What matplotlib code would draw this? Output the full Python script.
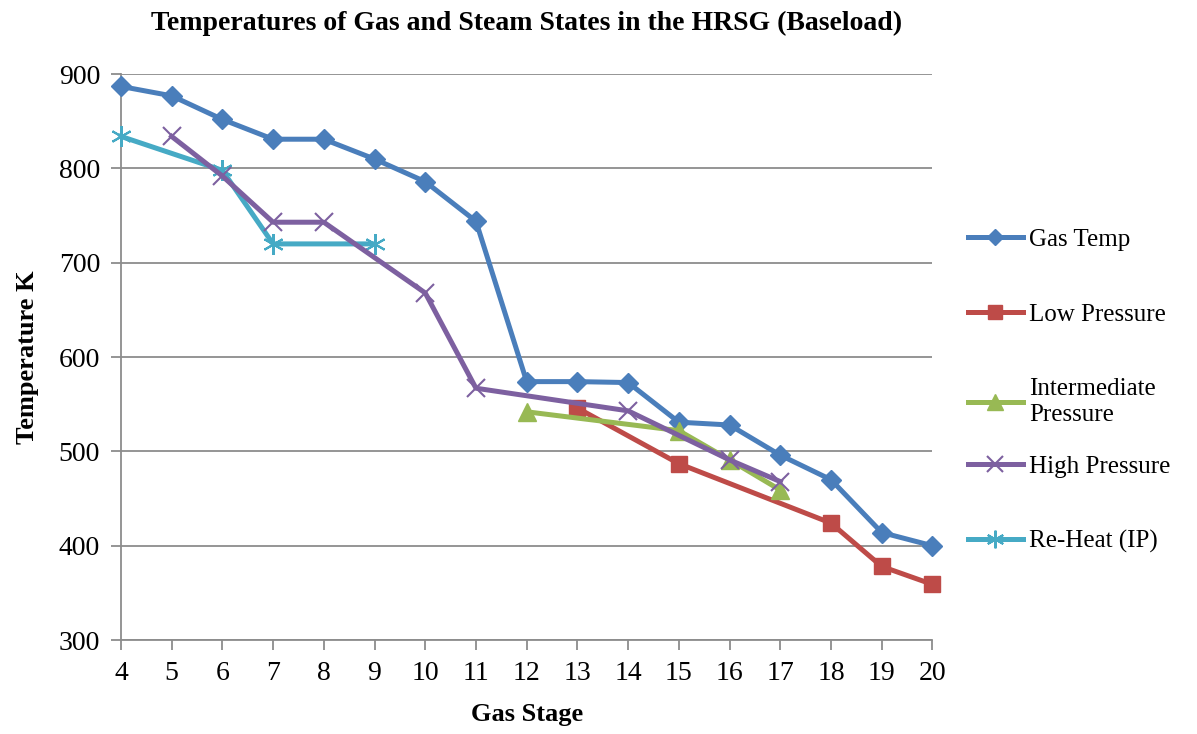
import matplotlib
matplotlib.use("Agg")
import matplotlib.pyplot as plt

# %% data
gas_stage = [4, 5, 6, 7, 8, 9, 10, 11, 12, 13, 14, 15, 16, 17, 18, 19, 20]
gas_temp = [887, 877, 852, 831, 831, 810, 786, 744, 574, 574, 573, 531, 528, 496, 470, 414, 400]

lp_stage = [13, 15, 18, 19, 20]
lp_temp = [546, 487, 424, 378, 359]

ip_stage = [12, 15, 16, 17]
ip_temp = [542, 522, 491, 459]

hp_stage = [5, 6, 7, 8, 10, 11, 14, 16, 17]
hp_temp = [834, 792, 743, 743, 668, 567, 543, 491, 468]

rh_stage = [4, 6, 7, 9]
rh_temp = [834, 798, 720, 720]

x_ticks = list(range(4, 21))
y_ticks = [300, 400, 500, 600, 700, 800, 900]

# %% style
plt.rcParams["font.family"] = ["Liberation Serif", "DejaVu Serif"]
GRID = "#8c8c8c"

fig = plt.figure(figsize=(11.97, 7.34), dpi=100)
ax = fig.add_axes([0.101, 0.128, 0.678, 0.771])

lw = 3.6
h_gas, = ax.plot(gas_stage, gas_temp, color="#4A7EBB", lw=lw, marker="D", ms=10,
                 label="Gas Temp", zorder=3, clip_on=False)
h_lp, = ax.plot(lp_stage, lp_temp, color="#BE4B48", lw=lw, marker="s", ms=12,
                label="Low Pressure", zorder=3, clip_on=False)
h_ip, = ax.plot(ip_stage, ip_temp, color="#98B954", lw=lw, marker="^", ms=13,
                label="Intermediate\nPressure", zorder=3, clip_on=False)
h_hp, = ax.plot(hp_stage, hp_temp, color="#7D60A0", lw=lw, marker="x", ms=13, mew=1.5,
                label="High Pressure", zorder=4, clip_on=False)
h_rh, = ax.plot(rh_stage, rh_temp, color="#46AAC5", lw=lw, marker=(6, 2, 0), ms=15,
                mew=1.5, label="Re-Heat (IP)", zorder=3, clip_on=False)

ax.set_xlim(4, 20)
ax.set_ylim(300, 900)
ax.set_xticks(x_ticks)
ax.set_yticks(y_ticks)
ax.yaxis.grid(True, color=GRID, lw=1.3)
ax.set_axisbelow(True)
for s in ("top", "right"):
    ax.spines[s].set_visible(False)
for s in ("left", "bottom"):
    ax.spines[s].set_color(GRID)
    ax.spines[s].set_linewidth(1.3)
ax.tick_params(axis="both", direction="out", color=GRID, width=1.3, length=7,
               labelsize=20, pad=8)

ax.set_xlabel("Gas Stage", fontsize=19, fontweight="bold", labelpad=12)
ax.set_ylabel("Temperature K", fontsize=19, fontweight="bold", labelpad=14)
ax.set_title("Temperatures of Gas and Steam States in the HRSG (Baseload)",
             fontsize=20, fontweight="bold", pad=32)

# legend split in two so the two-line entry sits tight like the original
leg_kw = dict(loc="upper left", frameon=False, fontsize=18, handlelength=2.2,
              handletextpad=0.25, labelspacing=2.1, borderaxespad=0,
              markerscale=0.85)
leg1 = ax.legend(handles=[h_gas, h_lp, h_ip], bbox_to_anchor=(1.031, 0.745), **leg_kw)
ax.add_artist(leg1)
ax.legend(handles=[h_hp, h_rh], bbox_to_anchor=(1.031, 0.344), **leg_kw)

fig.savefig("out.png", dpi=100)
